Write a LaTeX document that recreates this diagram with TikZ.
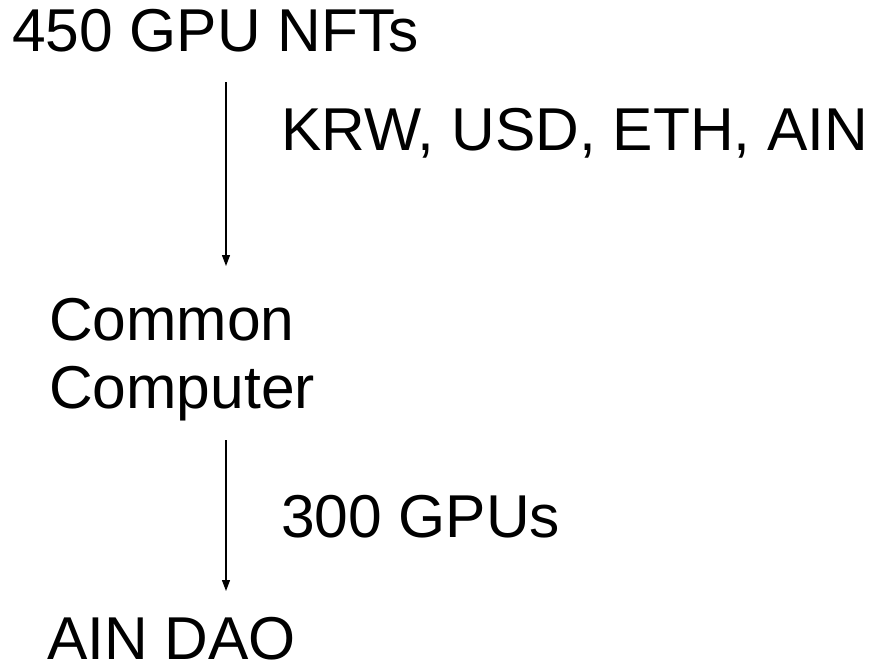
\documentclass[tikz,border=0pt]{standalone}
\usepackage{fontspec}
\setmainfont{Liberation Sans}
\usetikzlibrary{arrows.meta,positioning}

\begin{document}
\begin{tikzpicture}[
    x=1pt, y=-1pt,
    label/.style={
        inner sep=0pt,
        anchor=base west,
        align=left,
        font=\fontsize{60.5}{68}\selectfont
    },
    arrow/.style={-{Triangle[width=8pt,length=11pt]}, line width=1.2pt}
]
\useasboundingbox (0,0) rectangle (872,667);

% Stages (multi-line node sits on its last baseline)
\node[label] (nft) at (12,51) {450 GPU NFTs};
\node[label] (cc) at (49,408) {Common\\Computer};
\node[label] (dao) at (47,659) {AIN DAO};

% Flow labels
\node[label] (pay) at (281,150) {KRW, USD, ETH, AIN};
\node[label] (gpus) at (281,537) {300 GPUs};

% Arrow ends
\coordinate (a1) at (226,82);
\coordinate (b1) at (226,266);
\coordinate (a2) at (226,440);
\coordinate (b2) at (226,591);

\draw[arrow] (a1) -- (b1);
\draw[arrow] (a2) -- (b2);

\end{tikzpicture}
\end{document}
